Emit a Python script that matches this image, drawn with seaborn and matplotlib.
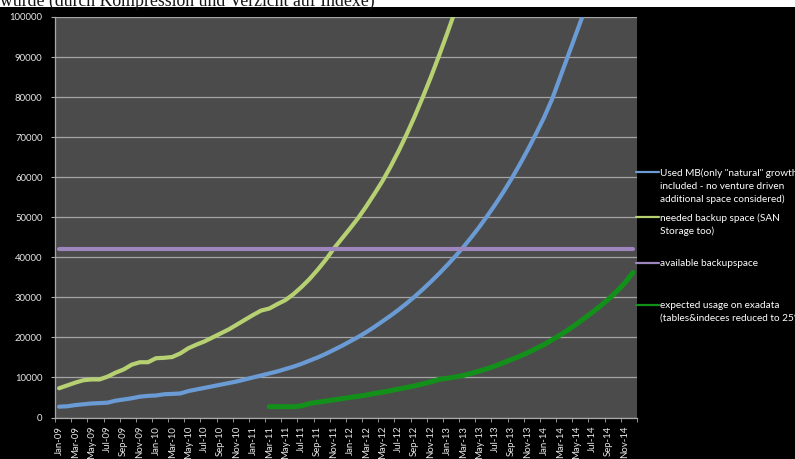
import matplotlib
matplotlib.use("Agg")
import matplotlib.pyplot as plt
import seaborn as sns
import pandas as pd
import numpy as np
from matplotlib.patches import Rectangle

nan = np.nan

# month categories Jan-09 .. Dec-14
months = list(pd.date_range("2009-01-01", periods=72, freq="MS").strftime("%b-%y"))

# Used MB (only "natural" growth) -- leaves the chart at the top around Jun-14
used_mb = [2700, 2800, 3100, 3300, 3500, 3600, 3700, 4200, 4500, 4800, 5200, 5400,
           5500, 5800, 5900, 6000, 6600, 7000, 7400, 7800, 8200, 8600, 9000, 9500,
           10000, 10500, 11000, 11500, 12100, 12700, 13400, 14200, 15000, 15900, 16900, 17900,
           19000, 20100, 21300, 22600, 24000, 25400, 26900, 28500, 30200, 32000, 33900, 35900,
           38000, 40200, 42500, 45000, 47600, 50400, 53300, 56400, 59700, 63200, 66900, 70800,
           74900, 79500, 85000, 90500, 96000, 101500] + [nan] * 6

# needed backup space (SAN storage too)
needed_backup = [7300, 8000, 8700, 9300, 9500, 9500, 10200, 11200, 12000, 13200, 13800, 13800,
                 14800, 14900, 15100, 16000, 17300, 18200, 19000, 20000, 21000, 22000, 23200, 24400,
                 25600, 26700, 27200, 28300, 29300, 30800, 32600, 34600, 36900, 39400, 42200, 44700,
                 47200, 49800, 52700, 55800, 59000, 62600, 66500, 70700, 75200, 80000, 85000, 90300,
                 95800, 101500] + [nan] * 22

# available backup space
available = [42000] * 72

# expected usage on exadata, starts Mar-11
exadata = [nan] * 26 + [2700, 2700, 2700, 2700, 2900, 3500, 3800, 4100, 4400, 4700,
                        5000, 5300, 5600, 6000, 6300, 6700, 7100, 7500, 7900, 8400, 8900, 9500,
                        9800, 10100, 10500, 11000, 11600, 12200, 12900, 13700, 14500, 15300, 16200, 17200,
                        18200, 19400, 20600, 21900, 23300, 24800, 26300, 27900, 29600, 31500, 33600, 36200]

labels = ['Used MB(only "natural" growth\nincluded - no venture driven\nadditional space considered)',
          'needed backup space (SAN\nStorage too)',
          'available backupspace',
          'expected usage on exadata\n(tables&indeces reduced to 25%)']
colors = ["#6a9bd4", "#b6d072", "#9d85bd", "#12901a"]
widths = [3.0, 3.0, 3.0, 3.6]

df = pd.DataFrame({"month": range(72), labels[0]: used_mb, labels[1]: needed_backup,
                   labels[2]: available, labels[3]: exadata})
long = df.melt(id_vars="month", var_name="series", value_name="mb").dropna()

sns.set_style("dark", {"axes.facecolor": "#4b4b4b", "figure.facecolor": "black"})
plt.rcParams["font.family"] = ["Lato", "DejaVu Sans"]

fig = plt.figure(figsize=(7.95, 4.59), dpi=100, facecolor="black")
ax = fig.add_axes([55 / 795, 1 - 417.5 / 459, 582 / 795, 400.5 / 459])

sns.lineplot(data=long, x="month", y="mb", hue="series", hue_order=labels,
             palette=dict(zip(labels, colors)), size="series",
             sizes=dict(zip(labels, widths)), estimator=None, legend=False,
             ax=ax)

ax.set_xlim(-0.5, 71.5)
ax.set_ylim(0, 100000)
ax.set_xlabel("")
ax.set_ylabel("")

ax.set_yticks(range(0, 100001, 10000))
ax.set_yticklabels([str(v) for v in range(0, 100001, 10000)])
ax.set_xticks(range(0, 72, 2))
ax.set_xticklabels(months[::2], rotation=90)
ax.set_xticks(np.arange(-0.5, 72, 2), minor=True)
ax.tick_params(axis="x", which="major", length=0, pad=6, labelsize=6.9, labelcolor="#e8e8e8")
ax.tick_params(axis="x", which="minor", length=3, color="#a8a8a8", bottom=True)
ax.tick_params(axis="y", length=3, color="#a8a8a8", left=True, labelsize=6.8,
               labelcolor="#e8e8e8", pad=6)

ax.yaxis.grid(True, color="#a5a5a5", lw=0.9)
ax.xaxis.grid(False)
for side in ["top", "right"]:
    ax.spines[side].set_visible(False)
for side in ["left", "bottom"]:
    ax.spines[side].set_color("#a8a8a8")
    ax.spines[side].set_linewidth(0.9)

# one legend block per series, so each sits where the reference has it
legend_tops = [168.5, 213.5, 259.5, 301.5]
for handle, label, top in zip(ax.get_lines()[:4], labels, legend_tops):
    leg = fig.legend([handle], [label], loc="upper left",
                     bbox_to_anchor=(636 / 795, 1 - top / 459), frameon=False,
                     fontsize=7.2, labelcolor="white", handlelength=2.25,
                     handletextpad=0.12, borderaxespad=0, borderpad=0)
    for line in leg.get_lines():
        line.set_linewidth(1.6)
    for t in leg.get_texts():
        t.set_linespacing(1.5)
    for col in leg._legend_handle_box.get_children():
        for row in col.get_children():
            row.align = "top"

# white strip with the cut-off sentence above the chart
fig.add_artist(Rectangle((0, 1 - 7 / 459), 1, 7 / 459, transform=fig.transFigure,
                         facecolor="white", edgecolor="none", zorder=5))
fig.text(0.0, 1 - 6 / 459, "wurde (durch Kompression und Verzicht auf Indexe)",
         family="Liberation Serif", fontsize=12.8, color="#151515", va="baseline",
         ha="left", zorder=6)

fig.savefig("out.png", dpi=100, facecolor="black")
